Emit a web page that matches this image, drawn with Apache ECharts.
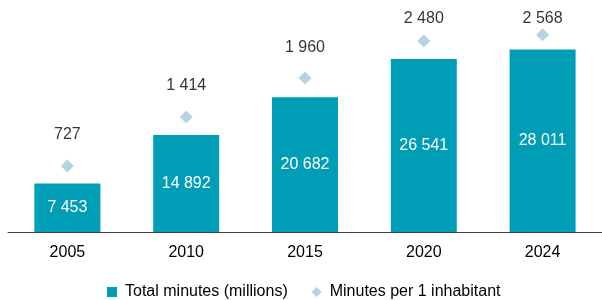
<!DOCTYPE html>
<html>
<head>
<meta charset="utf-8">
<script src="https://cdn.jsdelivr.net/npm/echarts@6/dist/echarts.min.js"></script>
<style>
  html, body { margin: 0; padding: 0; background: #fff; }
  #main { width: 602px; height: 300px; }
</style>
</head>
<body>
<div id="main"></div>
<script>
var years = ['2005', '2010', '2015', '2020', '2024'];
var totalMinutes = [7453, 14892, 20682, 26541, 28011];
var perInhabitant = [727, 1414, 1960, 2480, 2568];

var barColor = '#009db7';
var dotColor = '#a0cbda';
var font = '"Liberation Sans", Arial, sans-serif';

function fmt(v) {
  return String(v).replace(/\B(?=(\d{3})+(?!\d))/g, ' ');
}

var myChart = echarts.init(document.getElementById('main'));

var option = {
  animation: false,
  textStyle: { fontFamily: font },
  grid: { left: 8, right: -1, top: 4, bottom: 68 },
  legend: {
    left: 102,
    top: 279,
    itemWidth: 10,
    itemHeight: 10,
    itemGap: 24,
    textStyle: { fontSize: 16, color: '#000', fontFamily: font, padding: [0, 0, 0, 3] },
    data: [
      { name: 'Total minutes (millions)', icon: 'rect' },
      { name: 'Minutes per 1 inhabitant', icon: 'diamond' }
    ]
  },
  xAxis: {
    type: 'category',
    data: years,
    axisLine: { lineStyle: { color: '#404040', width: 1 } },
    axisTick: { length: 5, lineStyle: { color: '#404040' } },
    axisLabel: { fontSize: 16, color: '#000', margin: 13, fontFamily: font }
  },
  yAxis: [
    { type: 'value', min: 0, max: 35000, show: false, splitLine: { show: false } },
    { type: 'value', min: -200, max: 3000, show: false, splitLine: { show: false } }
  ],
  series: [
    {
      name: 'Total minutes (millions)',
      type: 'bar',
      barWidth: 66,
      itemStyle: { color: barColor },
      label: {
        show: true,
        position: 'inside',
        color: '#fff',
        fontSize: 16,
        fontFamily: font,
        formatter: function (p) { return fmt(p.value); }
      },
      data: totalMinutes
    },
    {
      name: 'Minutes per 1 inhabitant',
      type: 'scatter',
      yAxisIndex: 1,
      symbol: 'diamond',
      symbolSize: 13,
      itemStyle: { color: dotColor },
      label: {
        show: true,
        position: 'inside',
        color: '#000',
        fontSize: 16,
        fontFamily: font,
        offset: [0, -31],
        formatter: function (p) { return fmt(p.value); }
      },
      data: perInhabitant
    }
  ]
};
myChart.setOption(option);

// keep labels inside the top of the plot, as in the original
var labelled = perInhabitant.map(function (v) {
  var y = myChart.convertToPixel({ yAxisIndex: 1 }, v);
  var lift = Math.min(31, y - 19);
  return { value: v, label: { offset: [0, -lift] } };
});
myChart.setOption({ series: [{}, { data: labelled }] });
</script>
</body>
</html>
